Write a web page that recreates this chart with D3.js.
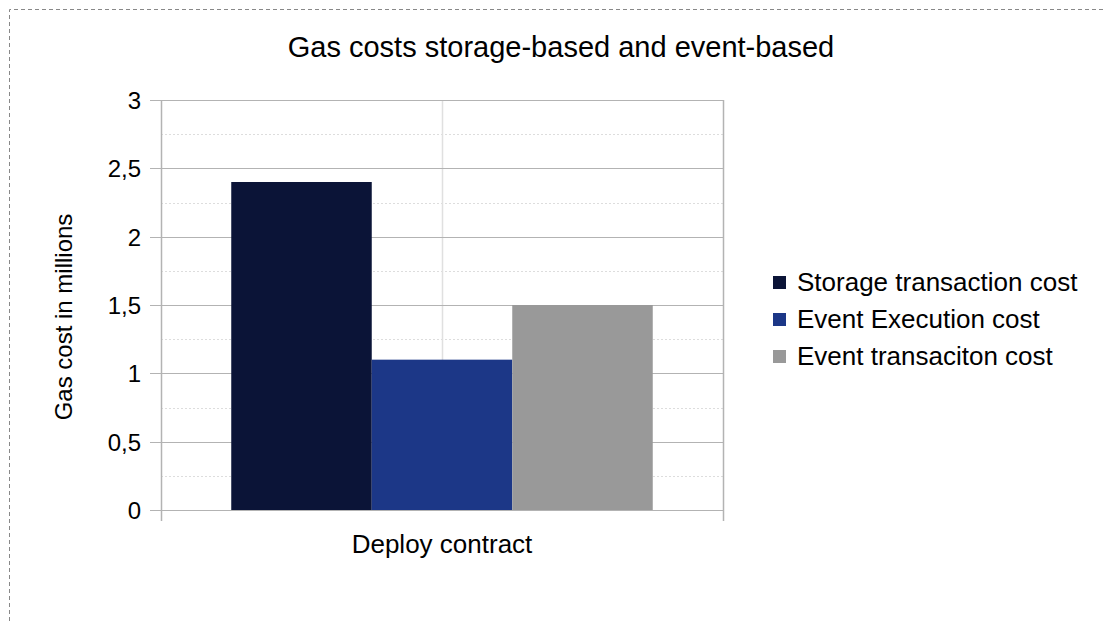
<!DOCTYPE html>
<html>
<head>
<meta charset="utf-8">
<script src="https://cdn.jsdelivr.net/npm/d3@7"></script>
<style>
  body { margin: 0; background: #fff; }
  svg { display: block; font-family: "Liberation Sans", Arial, sans-serif; }
</style>
</head>
<body>
<svg id="chart"></svg>
<script>
const width = 1105
const height = 621

// data
const categories = ['Deploy contract']
const seriesNames = ['Storage transaction cost', 'Event Execution cost', 'Event transaciton cost']
const seriesValues = [2.4, 1.1, 1.5]
const seriesColors = ['#0b1437', '#1c3787', '#999999']
const yTicks = [0, 0.5, 1, 1.5, 2, 2.5, 3]
const yTickLabels = ['0', '0,5', '1', '1,5', '2', '2,5', '3']
const minorTicks = [0.25, 0.75, 1.25, 1.75, 2.25, 2.75]

const margin = { left: 161, right: 723, top: 100, bottom: 510 }

const svg = d3.select('#chart').attr('width', width).attr('height', height)

// dashed page border
svg.append('path')
  .attr('d', `M9.5,${height} V9.5 H${width}`)
  .attr('fill', 'none')
  .attr('stroke', '#888')
  .attr('stroke-width', 1)
  .attr('stroke-dasharray', '4,3')

const x = d3.scaleBand().domain(categories).range([margin.left, margin.right])
const xInner = d3.scaleBand().domain(seriesNames)
  .range([0, x.bandwidth()]).paddingOuter(0.5)
const y = d3.scaleLinear().domain([0, 3]).range([margin.bottom, margin.top])

// minor grid
svg.append('g').selectAll('line')
  .data(minorTicks)
  .enter().append('line')
  .attr('x1', margin.left).attr('x2', margin.right)
  .attr('y1', d => Math.round(y(d)) + 0.5).attr('y2', d => Math.round(y(d)) + 0.5)
  .attr('stroke', '#dddddd')
  .attr('stroke-dasharray', '2,2')

// vertical grid in middle of category
svg.append('line')
  .attr('x1', x(categories[0]) + x.bandwidth() / 2 + 0.5)
  .attr('x2', x(categories[0]) + x.bandwidth() / 2 + 0.5)
  .attr('y1', margin.top).attr('y2', margin.bottom)
  .attr('stroke', '#e0e0e0')
  .attr('stroke-width', 1.5)

// major grid + ticks
svg.append('g').selectAll('line')
  .data(yTicks)
  .enter().append('line')
  .attr('x1', margin.left - 11).attr('x2', margin.right)
  .attr('y1', d => Math.round(y(d)) + 0.5).attr('y2', d => Math.round(y(d)) + 0.5)
  .attr('stroke', '#b3b3b3')
  .attr('stroke-width', 1.2)

// bars
svg.append('g').selectAll('rect')
  .data(seriesValues)
  .enter().append('rect')
  .attr('x', (d, i) => x(categories[0]) + xInner(seriesNames[i]))
  .attr('width', xInner.bandwidth())
  .attr('y', d => y(d))
  .attr('height', d => y(0) - y(d))
  .attr('fill', (d, i) => seriesColors[i])

// y axis labels
svg.append('g').selectAll('text')
  .data(yTicks)
  .enter().append('text')
  .attr('x', 141)
  .attr('y', d => y(d) + 9)
  .attr('text-anchor', 'end')
  .attr('font-size', 24)
  .attr('fill', '#000')
  .text((d, i) => yTickLabels[i])

// axis lines
svg.append('line')
  .attr('x1', margin.left + 0.5).attr('x2', margin.left + 0.5)
  .attr('y1', margin.top).attr('y2', margin.bottom + 11)
  .attr('stroke', '#b3b3b3').attr('stroke-width', 1.5)
svg.append('line')
  .attr('x1', margin.right + 0.5).attr('x2', margin.right + 0.5)
  .attr('y1', margin.top).attr('y2', margin.bottom + 11)
  .attr('stroke', '#b3b3b3').attr('stroke-width', 1.5)

// x label
svg.append('text')
  .attr('x', x(categories[0]) + x.bandwidth() / 2)
  .attr('y', 553)
  .attr('text-anchor', 'middle')
  .attr('font-size', 26)
  .text(categories[0])

// title
svg.append('text')
  .attr('x', 561).attr('y', 57)
  .attr('text-anchor', 'middle')
  .attr('font-size', 29)
  .text('Gas costs storage-based and event-based')

// y title
svg.append('text')
  .attr('transform', 'translate(72,317) rotate(-90)')
  .attr('text-anchor', 'middle')
  .attr('font-size', 24)
  .text('Gas cost in millions')

// legend
const legend = svg.append('g').selectAll('g')
  .data(seriesNames)
  .enter().append('g')
  .attr('transform', (d, i) => `translate(773,${291 + i * 37})`)
legend.append('rect')
  .attr('x', 0).attr('y', -15)
  .attr('width', 13).attr('height', 13)
  .attr('fill', (d, i) => seriesColors[i])
legend.append('text')
  .attr('x', 24).attr('y', 0)
  .attr('font-size', 26)
  .text(d => d)
</script>
</body>
</html>
